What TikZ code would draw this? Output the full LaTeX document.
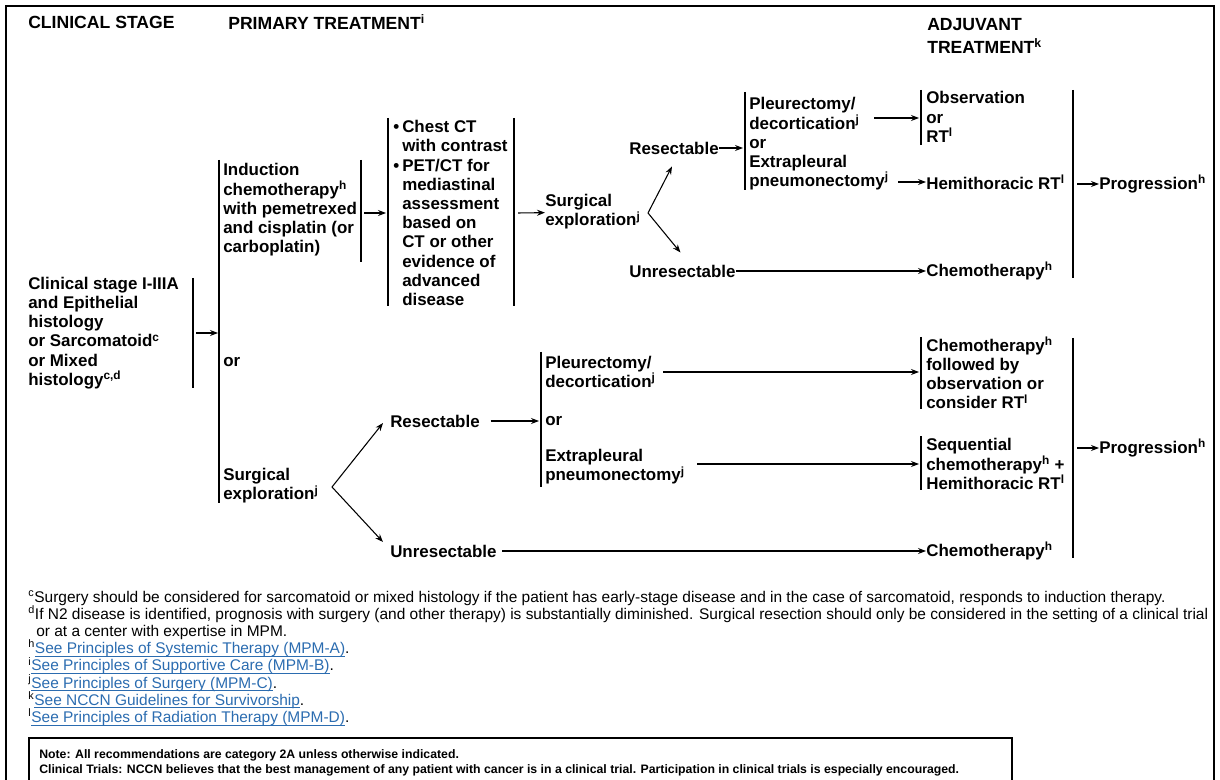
\documentclass[tikz,border=0pt]{standalone}
\usepackage{fontspec}
\setmainfont{Liberation Sans}
\usepackage{tikz}
\usetikzlibrary{positioning,arrows.meta,calc}
\usepackage{xcolor}
\definecolor{linkblue}{HTML}{2B6CB0}
\newcommand{\bodyfont}{\fontsize{12.7}{14.4}\selectfont\bfseries}
\newcommand{\headfont}{\fontsize{13.2}{13.5}\selectfont\bfseries}
\newcommand{\fnfont}{\fontsize{11.6}{12.9}\selectfont\lineskiplimit=-20pt}
\newcommand{\notefont}{\fontsize{9.2}{11.25}\selectfont\bfseries}
\newcommand{\sx}[1]{\textsuperscript{#1}}
\newcommand{\lnk}[1]{\textcolor{linkblue}{\setbox0\hbox{#1}\rlap{\rule[-2.3pt]{\wd0}{0.6pt}}\box0}}
\newcommand{\bul}{\makebox[6.75pt][l]{\textbullet}}
\newcommand{\ind}{\hspace*{6.75pt}}

\begin{document}
\begin{tikzpicture}[x=0.75pt,y=-0.75pt,
      txt/.style={anchor=west,align=left,inner sep=0pt,font=\bodyfont},
      hdr/.style={txt,font=\headfont},
      fnote/.style={anchor=west,align=left,inner sep=0pt,font=\fnfont},
      vbar/.style={line width=1pt},
      arr/.style={-{Stealth[length=6pt,width=4.5pt]},line width=0.8pt}]
    \useasboundingbox (0,0) rectangle (1220,780);
    \draw[line width=1.6pt] (6,785) |- (1214,6) -- (1214,785);
    % headers
    \node[hdr] (hstage) at (28,22) {CLINICAL STAGE};
    \node[hdr] (hprim) at (228,22) {PRIMARY TREATMENT\sx{i}};
    \node[hdr,font=\fontsize{13.2}{17.5}\selectfont\bfseries] (hadj) at (927,36) {ADJUVANT\\TREATMENT\sx{k}};
    % clinical stage
    \node[txt] (stage) at (28,333) {Clinical stage I-IIIA\\and Epithelial\\histology\\or Sarcomatoid\sx{c}\\or Mixed\\histology\sx{c,d}};
    \draw[vbar] (193,278) -- (193,388);
    \coordinate (stbar) at (196,333);
    \coordinate (bigbar) at (218,333);
    \draw[vbar] (219,160) -- (219,503);
    \draw[arr] (stbar) -- (bigbar);
    % induction branch
    \node[txt] (induc) at (223,210) {Induction\\chemotherapy\sx{h}\\with pemetrexed\\and cisplatin (or\\carboplatin)};
    \draw[vbar] (361,160) -- (361,262);
    \draw[vbar] (388,118) -- (388,306);
    \draw[vbar] (514,118) -- (514,306);
    \coordinate (inbar) at (364,213);
    \coordinate (imbar) at (386,213);
    \draw[arr] (inbar) -- (imbar);
    \node[txt] (imaging) at (393,213) {\bul Chest CT\\\ind with contrast\\\bul PET/CT for\\\ind mediastinal\\\ind assessment\\\ind based on\\\ind CT or other\\\ind evidence of\\\ind advanced\\\ind disease};
    \coordinate (imout) at (518,213);
    \node[txt] (surg2) at (545,212) {Surgical\\exploration\sx{j}};
    \draw[arr] (imout) -- (surg2);
    \node[txt] (res1) at (629,148) {Resectable};
    \node[txt] (unres1) at (629,271) {Unresectable};
    \coordinate (fork1) at (648,213);
    \draw[arr] (fork1) -- ($(res1.south)+(-2,12)$);
    \draw[arr] (fork1) -- ($(unres1.north)+(-2,-12)$);
    \draw[vbar] (745,92) -- (745,190);
    \coordinate (rsbar) at (743,148);
    \draw[arr] (res1) -- (rsbar);
    \node[txt] (resop1) at (749,144) {Pleurectomy/\\decortication\sx{j}\\or\\Extrapleural\\pneumonectomy\sx{j}};
    \draw[vbar] (921,90) -- (921,145);
    \node[txt] (obs) at (926,117) {Observation\\or\\RT\sx{l}};
    \coordinate (pdout) at (874,118);
    \coordinate (obsbar) at (919,118);
    \draw[arr] (pdout) -- (obsbar);
    \node[txt] (hemi) at (926,182) {Hemithoracic RT\sx{l}};
    \coordinate (epout) at (898,182);
    \draw[arr] (epout) -- (hemi);
    \node[txt] (chemo1) at (926,271) {Chemotherapy\sx{h}};
    \draw[arr] (unres1.east) -- (chemo1);
    \draw[vbar] (1073,90) -- (1073,278);
    \node[txt] (prog1) at (1099,184) {Progression\sx{h}};
    \coordinate (pgbar1) at (1077,184);
    \draw[arr] (pgbar1) -- (prog1);
    % surgical exploration branch
    \node[txt] (orA) at (223,362) {or};
    \node[txt] (surg1) at (223,486) {Surgical\\exploration\sx{j}};
    \node[txt] (res2) at (390,421) {Resectable};
    \node[txt] (unres2) at (390,551) {Unresectable};
    \coordinate (fork2) at (332,487);
    \draw[arr] (fork2) -- ($(res2.west)+(-7,2)$);
    \draw[arr] (fork2) -- ($(unres2.west)+(-7,-9)$);
    \draw[vbar] (541,352) -- (541,487);
    \coordinate (rs2bar) at (539,421);
    \draw[arr] ([xshift=8pt]res2.east) -- (rs2bar);
    \node[txt] (pleu2) at (545,372) {Pleurectomy/\\decortication\sx{j}};
    \node[txt] (or2) at (545,421) {or};
    \node[txt] (epp2) at (545,467) {Extrapleural\\pneumonectomy\sx{j}};
    \draw[vbar] (921,337) -- (921,409);
    \node[txt] (chemobs) at (926,373) {Chemotherapy\sx{h}\\followed by\\observation or\\consider RT\sx{l}};
    \coordinate (pl2out) at (663,372);
    \coordinate (cobar) at (919,372);
    \draw[arr] (pl2out) -- (cobar);
    \draw[vbar] (921,436) -- (921,490);
    \node[txt] (seqchemo) at (926,464) {Sequential\\chemotherapy\sx{h} +\\Hemithoracic RT\sx{l}};
    \coordinate (ep2out) at (697,464);
    \coordinate (sqbar) at (919,464);
    \draw[arr] (ep2out) -- (sqbar);
    \node[txt] (chemo2) at (926,551) {Chemotherapy\sx{h}};
    \draw[arr] ([xshift=4pt]unres2.east) -- (chemo2);
    \draw[vbar] (1073,338) -- (1073,558);
    \node[txt] (prog2) at (1099,448) {Progression\sx{h}};
    \coordinate (pgbar2) at (1077,448);
    \draw[arr] (pgbar2) -- (prog2);
    % footnotes
    \node[fnote] (fnotes) at (28,658) {\sx{c}Surgery should be considered for sarcomatoid or mixed histology if the patient has early-stage disease and in the case of sarcomatoid, responds to induction therapy.\\
      \sx{d}If N2 disease is identified, prognosis with surgery (and other therapy) is substantially diminished. Surgical resection should only be considered in the setting of a clinical trial\\
      \hspace*{6pt}or at a center with expertise in MPM.\\
      \sx{h}\lnk{See Principles of Systemic Therapy (MPM-A)}.\\
      \sx{i}\lnk{See Principles of Supportive Care (MPM-B)}.\\
      \sx{j}\lnk{See Principles of Surgery (MPM-C)}.\\
      \sx{k}\lnk{See NCCN Guidelines for Survivorship}.\\
      \sx{l}\lnk{See Principles of Radiation Therapy (MPM-D)}.};
    \draw[line width=0.8pt] (29,785) |- (1012,738) -- (1012,785);
    \node[anchor=west,align=left,inner sep=0pt,font=\notefont] (note) at (39,763) {Note: All recommendations are category 2A unless otherwise indicated.\\
      Clinical Trials: NCCN believes that the best management of any patient with cancer is in a clinical trial. Participation in clinical trials is especially encouraged.};
  \end{tikzpicture}
\end{document}
